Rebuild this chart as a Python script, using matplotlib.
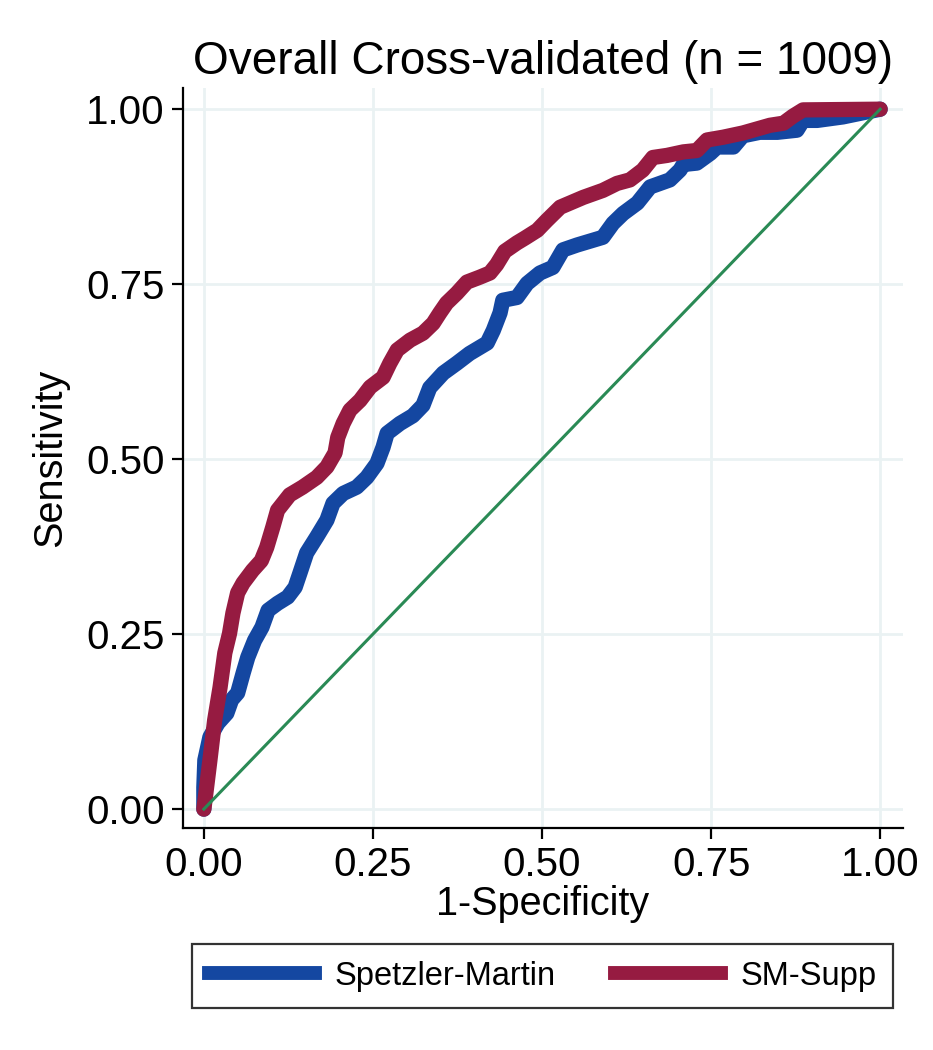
import matplotlib
matplotlib.use("Agg")
import matplotlib.pyplot as plt
from matplotlib.lines import Line2D

plt.rcParams['font.family'] = ['Liberation Sans', 'DejaVu Sans']

title = "Overall Cross-validated (n = 1009)"
xlabel = "1-Specificity"
ylabel = "Sensitivity"
ticks = [0.0, 0.25, 0.5, 0.75, 1.0]
tick_labels = ["0.00", "0.25", "0.50", "0.75", "1.00"]
series_names = ["Spetzler-Martin", "SM-Supp"]

sm_fpr = [0, 0, 0.0015, 0.009, 0.021, 0.034, 0.041, 0.05, 0.058, 0.065, 0.075, 0.086,
          0.095, 0.109, 0.124, 0.135, 0.142, 0.152, 0.167, 0.182, 0.191, 0.206, 0.226,
          0.241, 0.256, 0.265, 0.271, 0.29, 0.309, 0.324, 0.334, 0.354, 0.374, 0.393,
          0.419, 0.428, 0.438, 0.442, 0.463, 0.478, 0.497, 0.516, 0.531, 0.552, 0.59,
          0.605, 0.62, 0.641, 0.66, 0.689, 0.704, 0.709, 0.729, 0.749, 0.759, 0.783,
          0.797, 0.822, 0.848, 0.877, 0.886, 0.907, 0.945, 0.97, 1.0]
sm_tpr = [0, 0.031, 0.07, 0.103, 0.123, 0.137, 0.156, 0.166, 0.194, 0.217, 0.241, 0.26,
          0.284, 0.294, 0.303, 0.317, 0.337, 0.366, 0.389, 0.413, 0.437, 0.451, 0.46,
          0.474, 0.494, 0.517, 0.537, 0.551, 0.562, 0.577, 0.602, 0.623, 0.637, 0.651,
          0.666, 0.684, 0.709, 0.727, 0.731, 0.751, 0.766, 0.774, 0.799, 0.806, 0.817,
          0.837, 0.851, 0.866, 0.889, 0.899, 0.913, 0.921, 0.923, 0.937, 0.946, 0.946,
          0.962, 0.967, 0.967, 0.97, 0.984, 0.984, 0.989, 0.994, 1.0]

supp_fpr = [0, 0.0015, 0.009, 0.016, 0.024, 0.031, 0.038, 0.043, 0.05, 0.058, 0.072,
            0.085, 0.093, 0.102, 0.109, 0.127, 0.146, 0.167, 0.182, 0.194, 0.198, 0.206,
            0.216, 0.231, 0.246, 0.265, 0.275, 0.286, 0.305, 0.324, 0.339, 0.349, 0.359,
            0.374, 0.389, 0.408, 0.423, 0.433, 0.445, 0.463, 0.475, 0.493, 0.507, 0.527,
            0.561, 0.59, 0.611, 0.63, 0.649, 0.664, 0.685, 0.709, 0.729, 0.744, 0.768,
            0.797, 0.837, 0.857, 0.871, 0.886, 1.0]
supp_tpr = [0, 0.011, 0.07, 0.127, 0.174, 0.223, 0.251, 0.28, 0.309, 0.323, 0.341,
            0.355, 0.374, 0.403, 0.427, 0.449, 0.46, 0.474, 0.489, 0.509, 0.531, 0.551,
            0.57, 0.584, 0.603, 0.617, 0.637, 0.656, 0.67, 0.68, 0.694, 0.709, 0.723,
            0.737, 0.753, 0.76, 0.766, 0.778, 0.797, 0.809, 0.816, 0.827, 0.841, 0.86,
            0.874, 0.884, 0.894, 0.899, 0.913, 0.931, 0.934, 0.939, 0.941, 0.956, 0.96,
            0.966, 0.977, 0.98, 0.99, 0.999, 1.0]

ref = [0, 1]

blue = "#1447a1"
maroon = "#961b41"
green = "#2a8a55"
grid_c = "#eaf2f3"

fig = plt.figure(figsize=(9.33, 10.5), dpi=100)
ax = fig.add_axes([0.196, 0.2114, 0.772, 0.7046])

ax.plot(sm_fpr, sm_tpr, color=blue, lw=11, solid_capstyle='round', solid_joinstyle='round', zorder=3)
ax.plot(supp_fpr, supp_tpr, color=maroon, lw=11, solid_capstyle='round', solid_joinstyle='round', zorder=4)
ax.plot(ref, ref, color=green, lw=2.2, zorder=5)

ax.set_xlim(-0.031, 1.034)
ax.set_ylim(-0.027, 1.03)
ax.set_xticks(ticks)
ax.set_xticklabels(tick_labels)
ax.set_yticks(ticks)
ax.set_yticklabels(tick_labels)
ax.grid(True, color=grid_c, lw=2, zorder=0)
ax.set_axisbelow(True)
for s in ['top', 'right']:
    ax.spines[s].set_visible(False)
for s in ['left', 'bottom']:
    ax.spines[s].set_linewidth(1.6)
ax.tick_params(direction='out', length=8, width=1.6, labelsize=29, pad=5)
ax.set_xlabel(xlabel, fontsize=28.5, labelpad=1)
ax.set_ylabel(ylabel, fontsize=28.5, labelpad=12)
ax.set_title(title, fontsize=33, pad=10)

handles = [Line2D([], [], color=blue, lw=10), Line2D([], [], color=maroon, lw=10)]
leg = fig.legend(handles, series_names, loc='lower left', ncol=2,
                 bbox_to_anchor=(0.206, 0.04, 0.751, 0.058), mode='expand',
                 fontsize=23.5, frameon=True, fancybox=False, edgecolor='black',
                 handlelength=3.25, borderaxespad=0, borderpad=0.5, handletextpad=0.6)
leg.get_frame().set_linewidth(1.6)

fig.savefig("out.png", dpi=100, facecolor='white')
